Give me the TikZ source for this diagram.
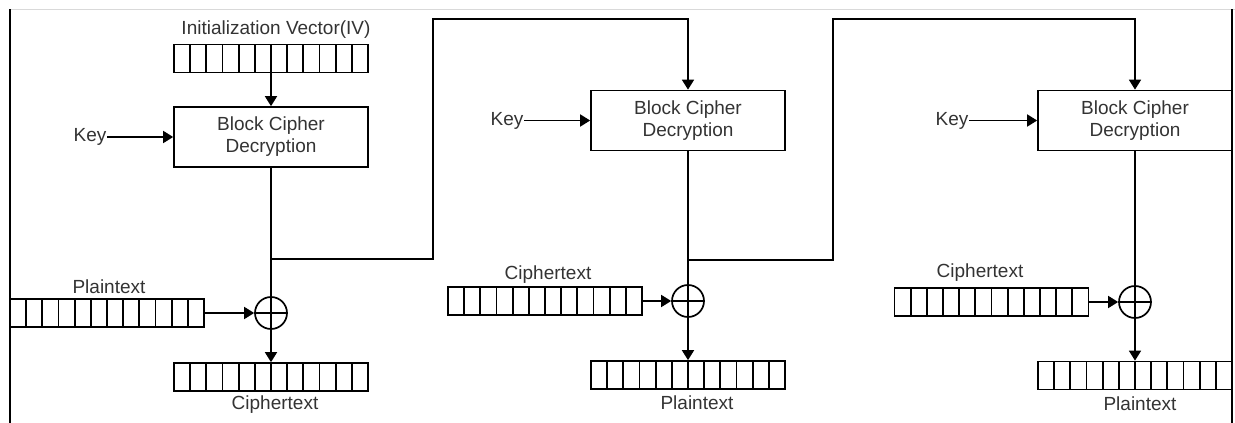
\documentclass[tikz,border=0pt]{standalone}
\usepackage{fontspec}
\setmainfont{Liberation Sans}
\usetikzlibrary{arrows.meta}

\begin{document}
\begin{tikzpicture}[x=1pt,y=-1pt,line width=1.7pt,
	>={Triangle[length=10pt,width=12pt]},
	font=\fontsize{19}{22}\selectfont,
	lbl/.style={inner sep=0pt,text=black!80},
	reg/.style={draw,minimum width=194pt,minimum height=28pt,inner sep=0pt,
		path picture={\foreach \k in {1,...,11}
			\draw[line width=1.7pt] ([xshift=\k*194pt/12]path picture bounding box.south west) -- ([xshift=\k*194pt/12]path picture bounding box.north west);}},
	dec/.style={draw,minimum width=194pt,minimum height=60pt,align=center,text=black!80},
	xor/.style={circle,draw,minimum size=32pt,inner sep=0pt,
		path picture={\draw[line width=1.7pt] (path picture bounding box.north) -- (path picture bounding box.south)
			(path picture bounding box.west) -- (path picture bounding box.east);}}]
	\useasboundingbox (0,0) rectangle (1235,423);
	% frame
	\draw[black!15,line width=1pt] (10,9) -- (1235,9);
	\draw (10,9) -- (10,423);
	\draw (1232,9) -- (1232,423);

	% first block
	\node[lbl] (ivlbl) at (276,30) {Initialization Vector(IV)};
	\node[reg] (iv) at (271,58.5) {};
	\node[dec] (dec1) at (271,137) {Block Cipher\\Decryption};
	\node[lbl] (key1) at (90,137) {Key};
	\node[xor] (xor1) at (271,313) {};
	\node[reg] (ptin) at (107,313) {};
	\node[lbl] (ptlbl) at (109,287) {Plaintext};
	\node[reg] (ctout) at (271,377) {};
	\node[lbl] (ctlbl) at (275,405) {Ciphertext};

	% second block
	\node[dec] (dec2) at (688,120.5) {Block Cipher\\Decryption};
	\node[lbl] (key2) at (507,120.5) {Key};
	\node[xor] (xor2) at (688,301) {};
	\node[reg] (ctin2) at (545,301) {};
	\node[lbl] (ctlbl2) at (548,275) {Ciphertext};
	\node[reg] (ptout2) at (688,375) {};
	\node[lbl] (ptlbl2) at (697,403) {Plaintext};

	% third block
	\node[dec] (dec3) at (1135,120.5) {Block Cipher\\Decryption};
	\node[lbl] (key3) at (952,120.5) {Key};
	\node[xor] (xor3) at (1135,302) {};
	\node[reg] (ctin3) at (991.5,302) {};
	\node[lbl] (ctlbl3) at (980,273) {Ciphertext};
	\node[reg] (ptout3) at (1135,375.5) {};
	\node[lbl] (ptlbl3) at (1140,404) {Plaintext};

	\coordinate (tap1) at (271,259);
	\coordinate (bend1) at (433,19);
	\coordinate (tap2) at (688,260);
	\coordinate (bend2) at (833,19);

	\draw[->] (iv.south) -- (dec1.north);
	\draw[->] (key1.east) -- (dec1.west);
	\draw (dec1.south) -- (xor1.north);
	\draw[->] (ptin.east) -- (xor1.west);
	\draw[->] (xor1.south) -- (ctout.north);
	\draw[->] (tap1) -| (bend1) -| (dec2.north);

	\draw[->] (key2.east) -- (dec2.west);
	\draw (dec2.south) -- (xor2.north);
	\draw[->] (ctin2.east) -- (xor2.west);
	\draw[->] (xor2.south) -- (ptout2.north);
	\draw[->] (tap2) -| (bend2) -| (dec3.north);

	\draw[->] (key3.east) -- (dec3.west);
	\draw (dec3.south) -- (xor3.north);
	\draw[->] (ctin3.east) -- (xor3.west);
	\draw[->] (xor3.south) -- (ptout3.north);
\end{tikzpicture}
\end{document}
